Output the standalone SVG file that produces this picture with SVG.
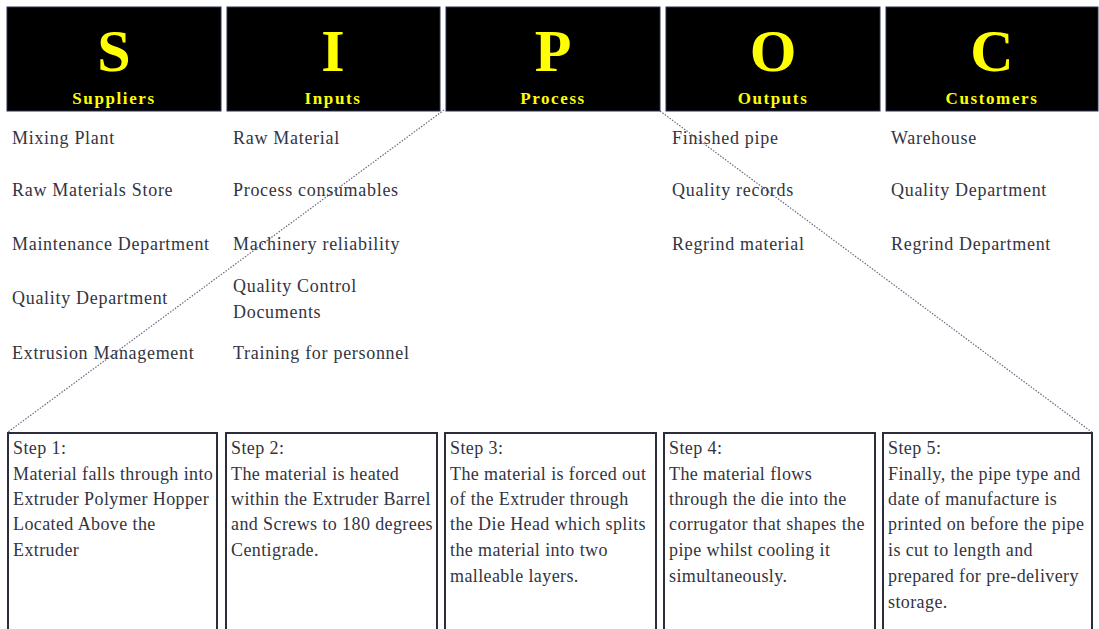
<svg xmlns="http://www.w3.org/2000/svg" width="1099" height="629" viewBox="0 0 1099 629">
<style>
.hdr{fill:#000;stroke:#2a3050;stroke-width:1}
.big{font-family:"Liberation Serif",serif;font-weight:bold;font-size:60px;fill:#ffff00;text-anchor:middle}
.lbl{font-family:"Liberation Serif",serif;font-weight:bold;font-size:17px;fill:#ffff00;text-anchor:middle;letter-spacing:1.6px}
.item{font-family:"Liberation Serif",serif;font-size:18px;fill:#33343f;letter-spacing:0.7px}
.step{fill:#fff;stroke:#2c2c3a;stroke-width:2}
.st{font-family:"Liberation Serif",serif;font-size:18px;fill:#33343f;letter-spacing:0.4px}
.conn{stroke:#6a6a80;stroke-width:1.2;stroke-dasharray:1.5 1.5;fill:none}
</style>
<rect width="1099" height="629" fill="#fff"/>
<g id="connectors">
<line class="conn" x1="444" y1="110" x2="8" y2="432"/>
<line class="conn" x1="660" y1="111" x2="1093" y2="433"/>
</g>
<g id="suppliers">
<rect class="hdr" x="7" y="7" width="214" height="104"/>
<text class="big" x="114" y="71">S</text>
<text class="lbl" x="114" y="104">Suppliers</text>
<text class="item" x="12" y="144">Mixing Plant</text>
<text class="item" x="12" y="196">Raw Materials Store</text>
<text class="item" x="12" y="250">Maintenance Department</text>
<text class="item" x="12" y="304">Quality Department</text>
<text class="item" x="12" y="359">Extrusion Management</text>
</g>
<g id="inputs">
<rect class="hdr" x="227" y="7" width="213" height="104"/>
<text class="big" x="333" y="71">I</text>
<text class="lbl" x="333" y="104">Inputs</text>
<text class="item" x="233" y="144">Raw Material</text>
<text class="item" x="233" y="196">Process consumables</text>
<text class="item" x="233" y="250">Machinery reliability</text>
<text class="item" x="233" y="292">Quality Control</text>
<text class="item" x="233" y="318">Documents</text>
<text class="item" x="233" y="359">Training for personnel</text>
</g>
<g id="process">
<rect class="hdr" x="446" y="7" width="214" height="104"/>
<text class="big" x="553" y="71">P</text>
<text class="lbl" x="553" y="104">Process</text>
</g>
<g id="outputs">
<rect class="hdr" x="666" y="7" width="214" height="104"/>
<text class="big" x="773" y="71">O</text>
<text class="lbl" x="773" y="104">Outputs</text>
<text class="item" x="672" y="144">Finished pipe</text>
<text class="item" x="672" y="196">Quality records</text>
<text class="item" x="672" y="250">Regrind material</text>
</g>
<g id="customers">
<rect class="hdr" x="886" y="7" width="212" height="104"/>
<text class="big" x="992" y="71">C</text>
<text class="lbl" x="992" y="104">Customers</text>
<text class="item" x="891" y="144">Warehouse</text>
<text class="item" x="891" y="196">Quality Department</text>
<text class="item" x="891" y="250">Regrind Department</text>
</g>
<g id="step1">
<rect class="step" x="8" y="433" width="209" height="200"/>
<text class="st" x="13" y="454">Step 1:</text>
<text class="st" x="13" y="480">Material falls through into</text>
<text class="st" x="13" y="505">Extruder Polymer Hopper</text>
<text class="st" x="13" y="530">Located Above the</text>
<text class="st" x="13" y="556">Extruder</text>
</g>
<g id="step2">
<rect class="step" x="226" y="433" width="211" height="200"/>
<text class="st" x="231" y="454">Step 2:</text>
<text class="st" x="231" y="480">The material is heated</text>
<text class="st" x="231" y="505">within the Extruder Barrel</text>
<text class="st" x="231" y="530">and Screws to 180 degrees</text>
<text class="st" x="231" y="556">Centigrade.</text>
</g>
<g id="step3">
<rect class="step" x="445" y="433" width="211" height="200"/>
<text class="st" x="450" y="454">Step 3:</text>
<text class="st" x="450" y="480">The material is forced out</text>
<text class="st" x="450" y="505">of the Extruder through</text>
<text class="st" x="450" y="530">the Die Head which splits</text>
<text class="st" x="450" y="556">the material into two</text>
<text class="st" x="450" y="582">malleable layers.</text>
</g>
<g id="step4">
<rect class="step" x="664" y="433" width="211" height="200"/>
<text class="st" x="669" y="454">Step 4:</text>
<text class="st" x="669" y="480">The material flows</text>
<text class="st" x="669" y="505">through the die into the</text>
<text class="st" x="669" y="530">corrugator that shapes the</text>
<text class="st" x="669" y="556">pipe whilst cooling it</text>
<text class="st" x="669" y="582">simultaneously.</text>
</g>
<g id="step5">
<rect class="step" x="883" y="433" width="209" height="200"/>
<text class="st" x="888" y="454">Step 5:</text>
<text class="st" x="888" y="480">Finally, the pipe type and</text>
<text class="st" x="888" y="505">date of manufacture is</text>
<text class="st" x="888" y="530">printed on before the pipe</text>
<text class="st" x="888" y="556">is cut to length and</text>
<text class="st" x="888" y="582">prepared for pre-delivery</text>
<text class="st" x="888" y="608">storage.</text>
</g>
</svg>
